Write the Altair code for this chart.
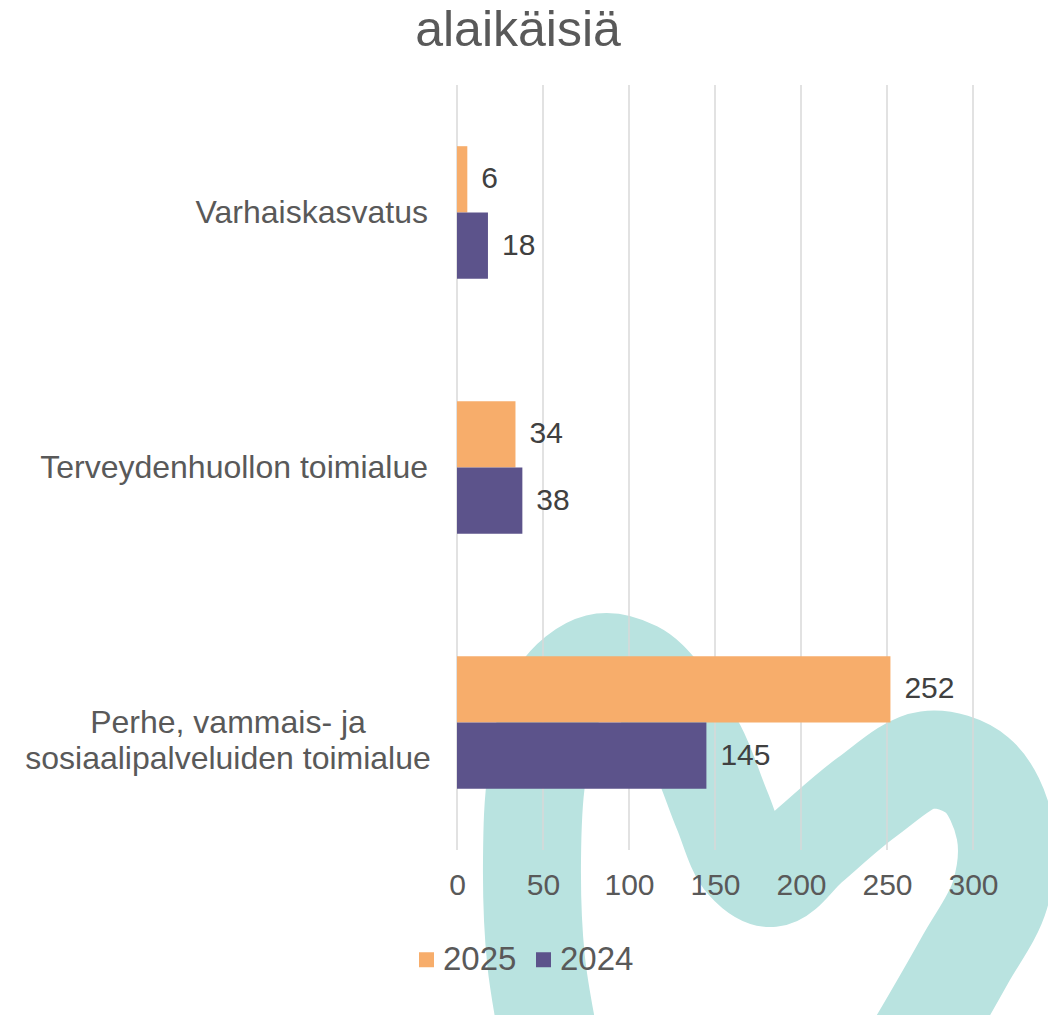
import altair as alt
import pandas as pd

# ---- data ----
categories = ["Varhaiskasvatus", "Terveydenhuollon toimialue",
              "Perhe, vammais- ja\nsosiaalipalveluiden toimialue"]
series = ["2025", "2024"]
values_2025 = [6, 34, 252]
values_2024 = [18, 38, 145]
x_ticks = [0, 50, 100, 150, 200, 250, 300]
title_text = "alaikäisiä"

# decorative background heart stroke (pixel path relative to plot origin)
heart_x = [96, 79, 75, 80, 101, 141, 178, 205, 240, 265, 288, 315, 353, 410, 470, 520, 548, 543, 508, 462, 447]
heart_y = [975, 875, 775, 690, 610, 578, 585, 610, 663, 725, 777, 793, 760, 712, 675, 690, 745, 810, 875, 955, 980]

FONT = "Liberation Sans"
TEXT = "#595959"
ORANGE = "#F7AD6B"
PURPLE = "#5C538B"
TEAL = "#B9E3E0"
W, H = 516, 765

rows = []
for c, a, b in zip(categories, values_2025, values_2024):
    rows.append({"cat": c, "series": series[0], "value": a})
    rows.append({"cat": c, "series": series[1], "value": b})
df = pd.DataFrame(rows)
df_cat = pd.DataFrame({"cat": categories})
df_ticks = pd.DataFrame({"t": x_ticks})
df_heart = pd.DataFrame({"hx": heart_x, "hy": heart_y, "o": list(range(len(heart_x)))})

x_scale = alt.Scale(domain=[0, 300], nice=False, zero=True)
x_axis = alt.Axis(values=x_ticks, grid=False, domain=False, ticks=False,
                  labelFontSize=30, labelColor=TEXT, labelFont=FONT,
                  labelPadding=20, title=None, labelOverlap=False,
                  labelFlush=False, labelBound=False, zindex=2)
y_enc = alt.Y("cat:N", sort=categories, axis=None,
              scale=alt.Scale(paddingInner=0.48, paddingOuter=0.24))
yoff = alt.YOffset("series:N", sort=series)

heart = alt.Chart(df_heart).mark_line(
    color=TEAL, strokeWidth=98, interpolate="catmull-rom",
    strokeCap="butt", strokeJoin="round"
).encode(
    x=alt.X("hx:Q", scale=None, axis=None),
    y=alt.Y("hy:Q", scale=None, axis=None),
    order="o:O",
)

grid = alt.Chart(df_ticks).mark_rule(color="#D9D9D9", strokeWidth=1.5).encode(
    x=alt.X("t:Q", scale=x_scale, axis=x_axis),
    y=alt.value(0),
    y2=alt.value(H),
)

bars = alt.Chart(df).mark_bar().encode(
    x=alt.X("value:Q", scale=x_scale, axis=x_axis),
    y=y_enc,
    yOffset=yoff,
    color=alt.Color("series:N", sort=series,
                    scale=alt.Scale(domain=series, range=[ORANGE, PURPLE]),
                    legend=alt.Legend(orient="none", legendX=-47, legendY=858,
                                      direction="horizontal", title=None,
                                      symbolType="square", symbolSize=225,
                                      symbolStrokeWidth=0,
                                      labelFontSize=33, labelColor=TEXT,
                                      labelFont=FONT, columnPadding=10,
                                      labelOffset=0, zindex=2)),
)

vals = alt.Chart(df).mark_text(
    align="left", baseline="middle", dx=14, fontSize=30, font=FONT, color="#404040"
).encode(
    x=alt.X("value:Q", scale=x_scale, axis=x_axis),
    y=y_enc,
    yOffset=yoff,
    text="value:Q",
)

lab_single = alt.Chart(df_cat).transform_filter(
    "indexof(datum.cat, '\\n') < 0"
).mark_text(
    align="right", baseline="middle", fontSize=32, font=FONT, color=TEXT
).encode(
    x=alt.value(-29),
    y=y_enc,
    text="cat:N",
)

lab_multi = alt.Chart(df_cat).transform_filter(
    "indexof(datum.cat, '\\n') >= 0"
).mark_text(
    align="center", baseline="middle", fontSize=32, font=FONT, color=TEXT,
    lineBreak="\n", lineHeight=36
).encode(
    x=alt.value(-229),
    y=y_enc,
    text="cat:N",
)

inner = alt.layer(grid, bars, vals, lab_single, lab_multi)

chart = alt.layer(heart, inner).resolve_scale(
    x="independent", y="independent"
).properties(
    width=W, height=H,
    title=alt.TitleParams(text=title_text, fontSize=50, color=TEXT, font=FONT,
                          fontWeight="normal", anchor="middle", frame="group",
                          dx=-197, offset=28),
    autosize=alt.AutoSizeParams(type="none"),
    padding={"left": 449, "top": 77, "right": 75, "bottom": 165},
).configure_view(stroke=None)

chart.save("out.html", embed_options={"renderer": "svg", "actions": False})
